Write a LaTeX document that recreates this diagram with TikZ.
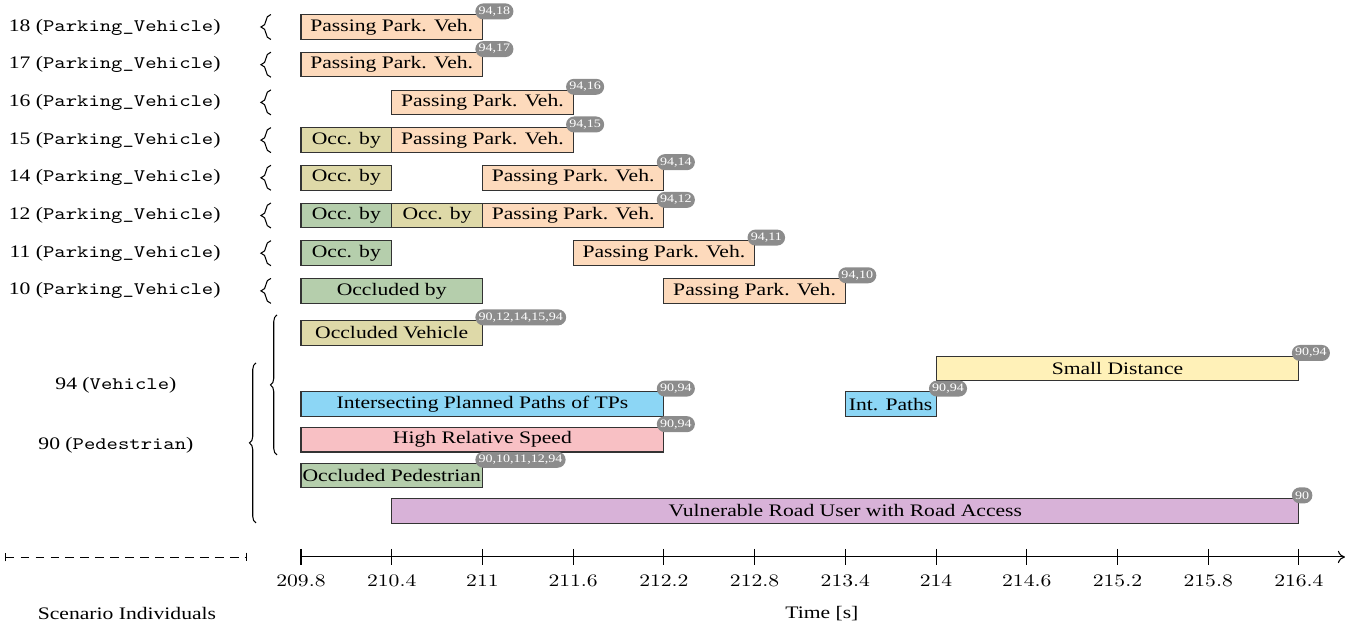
\documentclass[tikz,border=0pt]{standalone}
\usepackage{fontspec}
\setmainfont{Liberation Serif}
\usetikzlibrary{decorations.pathreplacing,calc,arrows.meta}

\definecolor{cPark}{RGB}{253,218,188}
\definecolor{cOccK}{RGB}{222,217,168}
\definecolor{cOccG}{RGB}{181,206,172}
\definecolor{cDist}{RGB}{255,241,184}
\definecolor{cPath}{RGB}{140,214,245}
\definecolor{cSpeed}{RGB}{248,192,196}
\definecolor{cVRU}{RGB}{216,178,216}
\definecolor{cBadge}{RGB}{140,140,140}

\begin{document}
\begin{tikzpicture}[x=1.8145cm,y=1cm]
		\tikzstyle{txt}=[xscale=1.23,inner sep=0pt]
		\tikzstyle{bar}=[draw=black!80,line width=0.6pt]
		\tikzstyle{badge}=[xshift=-0.15cm,yshift=-0.1cm,anchor=south west,xscale=1.23,fill=cBadge,text=white,rounded corners=0.16cm,inner xsep=1.5pt,inner ysep=0pt,minimum height=0.32cm,font=\fontsize{6.5}{7}\selectfont]
		\tikzstyle{brace}=[decorate,decoration={brace,amplitude=0.2cm},line width=0.6pt]
		\tikzstyle{bigbrace}=[decorate,decoration={brace,amplitude=0.13cm},line width=0.6pt]

		\useasboundingbox (-3.3177,-1.48) rectangle (11.585,11.14);

		% scenario individuals
		\foreach \id [count=\i from 0] in {18,17,16,15,14,12,11,10} {
			\pgfmathsetmacro\yy{10.6-0.754*\i}
			\node[txt,anchor=east] (n\id) at (-0.882,\yy) {\id\ (\texttt{Parking\_Vehicle})};
			\draw[brace] (-0.331,\yy-0.25) -- (-0.331,\yy+0.25);
		}
		\node[txt] (n94) at (-2.04,3.44) {94 (\texttt{Vehicle})};
		\node[txt] (n90) at (-2.04,2.24) {90 (\texttt{Pedestrian})};
		\draw[bigbrace] (-0.2645,2.04) -- (-0.2645,4.84);
		\draw[bigbrace] (-0.496,0.68) -- (-0.496,3.88);

		% situations of the parking vehicles
		\draw[bar,fill=cPark] (0,10.355) rectangle (2,10.845) node[pos=.5,txt] (p18) {Passing Park. Veh.};
		\node[badge] (c18) at (2,10.845) {94,18};

		\draw[bar,fill=cPark] (0,9.601) rectangle (2,10.091) node[pos=.5,txt] (p17) {Passing Park. Veh.};
		\node[badge] (c17) at (2,10.091) {94,17};

		\draw[bar,fill=cPark] (1,8.847) rectangle (3,9.337) node[pos=.5,txt] (p16) {Passing Park. Veh.};
		\node[badge] (c16) at (3,9.337) {94,16};

		\draw[bar,fill=cOccK] (0,8.093) rectangle (1,8.583) node[pos=.5,txt] (o15) {Occ. by};
		\draw[bar,fill=cPark] (1,8.093) rectangle (3,8.583) node[pos=.5,txt] (p15) {Passing Park. Veh.};
		\node[badge] (c15) at (3,8.583) {94,15};

		\draw[bar,fill=cOccK] (0,7.339) rectangle (1,7.829) node[pos=.5,txt] (o14) {Occ. by};
		\draw[bar,fill=cPark] (2,7.339) rectangle (4,7.829) node[pos=.5,txt] (p14) {Passing Park. Veh.};
		\node[badge] (c14) at (4,7.829) {94,14};

		\draw[bar,fill=cOccG] (0,6.585) rectangle (1,7.075) node[pos=.5,txt] (g12) {Occ. by};
		\draw[bar,fill=cOccK] (1,6.585) rectangle (2,7.075) node[pos=.5,txt] (o12) {Occ. by};
		\draw[bar,fill=cPark] (2,6.585) rectangle (4,7.075) node[pos=.5,txt] (p12) {Passing Park. Veh.};
		\node[badge] (c12) at (4,7.075) {94,12};

		\draw[bar,fill=cOccG] (0,5.831) rectangle (1,6.321) node[pos=.5,txt] (g11) {Occ. by};
		\draw[bar,fill=cPark] (3,5.831) rectangle (5,6.321) node[pos=.5,txt] (p11) {Passing Park. Veh.};
		\node[badge] (c11) at (5,6.321) {94,11};

		\draw[bar,fill=cOccG] (0,5.077) rectangle (2,5.567) node[pos=.5,txt] (g10) {Occluded by};
		\draw[bar,fill=cPark] (4,5.077) rectangle (6,5.567) node[pos=.5,txt] (p10) {Passing Park. Veh.};
		\node[badge] (c10) at (6,5.567) {94,10};

		% situations of vehicle and pedestrian
		\draw[bar,fill=cOccK] (0,4.235) rectangle (2,4.725) node[pos=.5,txt] (occveh) {Occluded Vehicle};
		\node[badge] (cOccVeh) at (2,4.725) {90,12,14,15,94};

		\draw[bar,fill=cDist] (7,3.523) rectangle (11,4.013) node[pos=.5,txt] (dist) {Small Distance};
		\node[badge] (cDist) at (11,4.013) {90,94};

		\draw[bar,fill=cPath] (0,2.811) rectangle (4,3.301) node[pos=.5,txt] (paths) {Intersecting Planned Paths of TPs};
		\node[badge] (cPaths) at (4,3.301) {90,94};
		\draw[bar,fill=cPath] (6,2.811) rectangle (7,3.301) node[pos=.5,txt] (ipaths) {Int. Paths};
		\node[badge] (cIPaths) at (7,3.301) {90,94};

		\draw[bar,fill=cSpeed] (0,2.099) rectangle (4,2.589) node[pos=.5,txt] (speed) {High Relative Speed};
		\node[badge] (cSpeed) at (4,2.589) {90,94};

		\draw[bar,fill=cOccG] (0,1.387) rectangle (2,1.877) node[pos=.5,txt] (occped) {Occluded Pedestrian};
		\node[badge] (cOccPed) at (2,1.877) {90,10,11,12,94};

		\draw[bar,fill=cVRU] (1,0.675) rectangle (11,1.165) node[pos=.5,txt] (vru) {Vulnerable Road User with Road Access};
		\node[badge] (cVru) at (11,1.165) {90};

		% axes
		\coordinate (s0) at (-3.262,0);
		\coordinate (s1) at (-0.595,0);
		\draw[|-|,line width=0.5pt,dash pattern=on 5pt off 3.5pt] (s0) -- (s1);
		\coordinate (t0) at (0,0);
		\coordinate (tEnd) at (11.507,0);
		\draw[-{To[length=4pt,width=7pt]},line width=0.6pt] (t0) -- (tEnd);
		\foreach \k/\lab in {0/209.8,1/210.4,2/211,3/211.6,4/212.2,5/212.8,6/213.4,7/214,8/214.6,9/215.2,10/215.8,11/216.4} {
			\draw[line width=0.6pt] (\k,0.16) -- (\k,-0.16);
			\node[txt] (tick\k) at (\k,-0.48) {$\lab$};
		}
		\node[txt] (lblInd) at (-1.918,-1.14) {Scenario Individuals};
		\node[txt] (lblTime) at (5.742,-1.14) {Time [s]};
	\end{tikzpicture}
\end{document}
